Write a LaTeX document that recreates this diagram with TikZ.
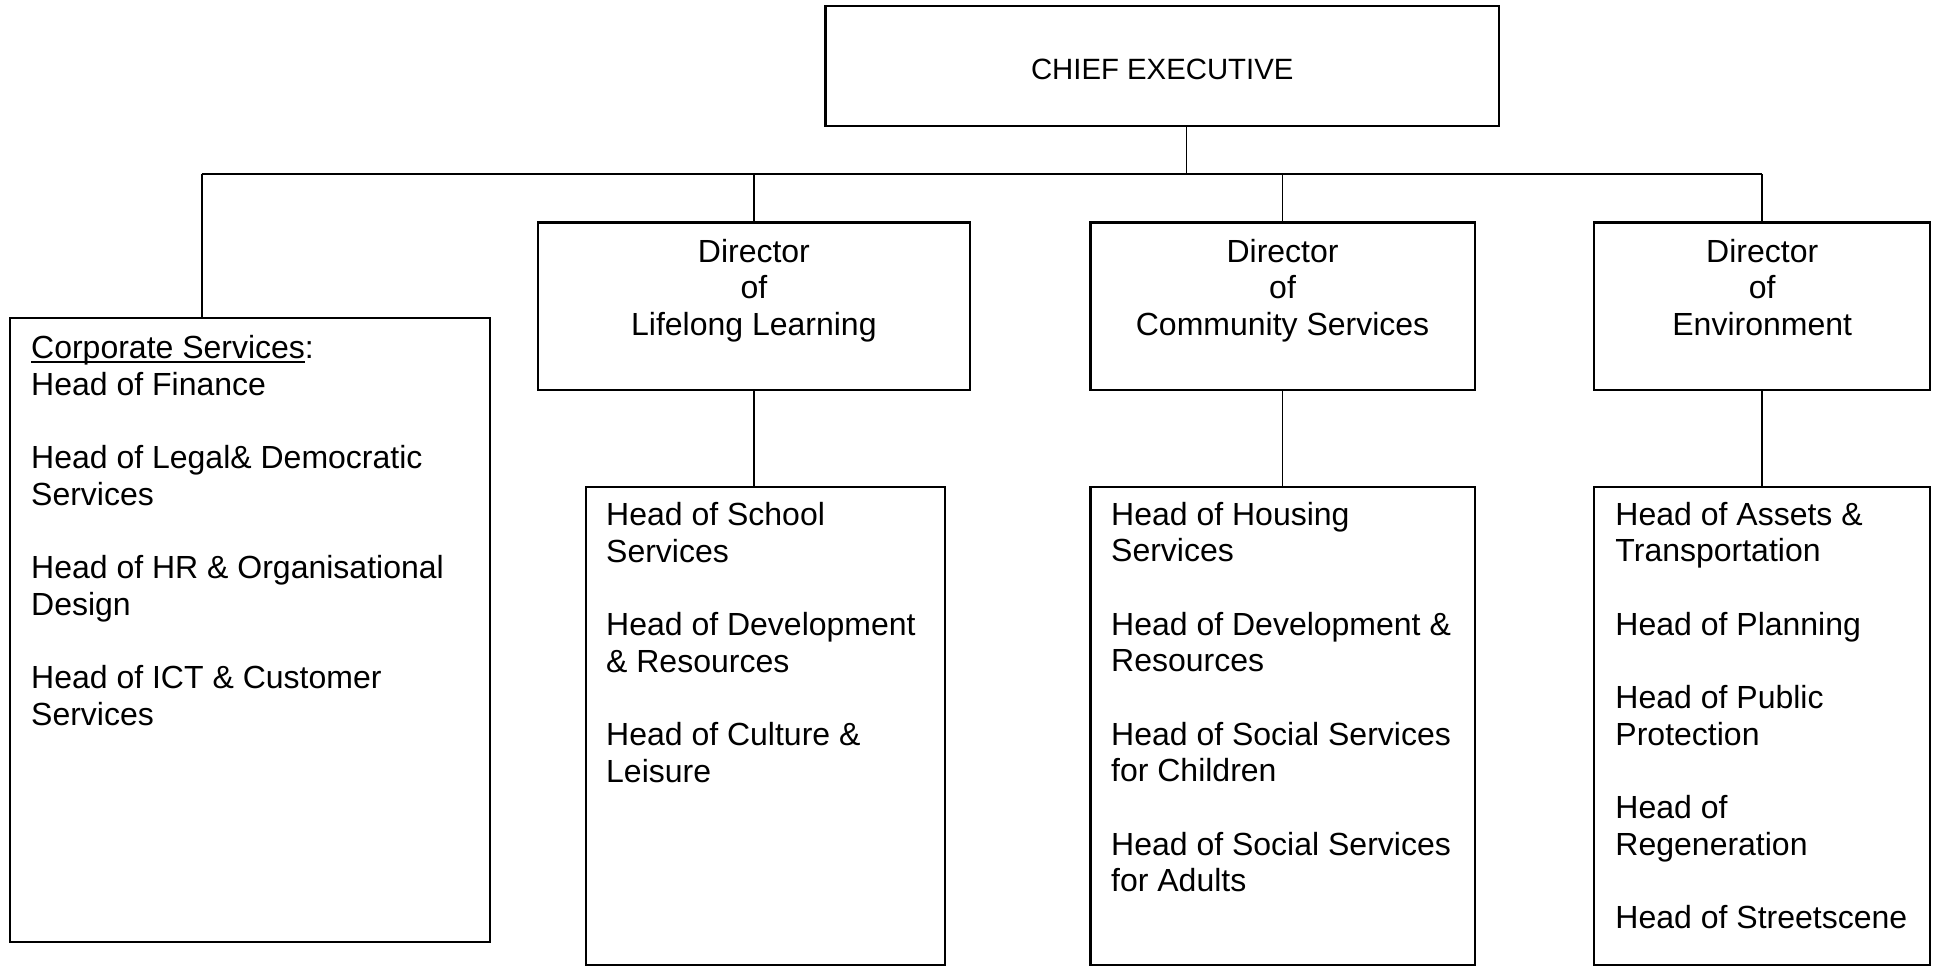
\documentclass[tikz,border=0pt]{standalone}
\usepackage{fontspec}
\setmainfont{Liberation Sans}
\usetikzlibrary{fit}
\newcommand{\ulbar}[1]{\setbox0\hbox{#1}\rlap{\rule[-1.6pt]{\wd0}{0.7pt}}\box0}

\begin{document}
\begin{tikzpicture}[x=0.375pt, y=-0.375pt,
    box/.style={draw, line width=0.8pt, inner sep=0pt},
    link/.style={line width=0.7pt},
    heads/.style={anchor=base west, inner sep=0pt, align=left, font=\fontsize{12pt}{13.76pt}\selectfont},
    title/.style={anchor=base, inner sep=0pt, align=center, font=\fontsize{12pt}{13.76pt}\selectfont}]
    \useasboundingbox (0,0) rectangle (1939,967);

    \node[box, fit={(825.5,6) (1499,126)}] (ceo) {};
    \node[box, fit={(10,318.3) (490,942.3)}] (corp) {};
    \node[box, fit={(537.8,222.5) (970,390)}] (dirLL) {};
    \node[box, fit={(1090.5,222.5) (1474.6,390)}] (dirCS) {};
    \node[box, fit={(1594,222.5) (1930.4,390)}] (dirEnv) {};
    \node[box, fit={(586,487) (945,965)}] (headsLL) {};
    \node[box, fit={(1090.5,487) (1474.6,965)}] (headsCS) {};
    \node[box, fit={(1594,487) (1930.4,965)}] (headsEnv) {};

    % multi-line nodes sit on the baseline of their last line
    \node[title, font=\fontsize{11pt}{13pt}\selectfont] (ceoText) at ([yshift=-75*0.375pt]ceo.north) {CHIEF EXECUTIVE};
    \node[title] (dirLLText) at ([yshift=-114*0.375pt]dirLL.north) {Director\\of\\Lifelong Learning};
    \node[title] (dirCSText) at ([yshift=-114*0.375pt]dirCS.north) {Director\\of\\Community Services};
    \node[title] (dirEnvText) at ([yshift=-114*0.375pt]dirEnv.north) {Director\\of\\Environment};

    \node[heads] (corpText) at ([shift={(21.7,408)}]corp.north west)
        {\ulbar{Corporate Services}:\\Head of Finance\\[13.76pt]
         Head of Legal\& Democratic\\Services\\[13.76pt]
         Head of HR \& Organisational\\Design\\[13.76pt]
         Head of ICT \& Customer\\Services};
    \node[heads] (headsLLText) at ([shift={(20.7,296.6)}]headsLL.north west)
        {Head of School\\Services\\[13.76pt]
         Head of Development\\\& Resources\\[13.76pt]
         Head of Culture \&\\Leisure};
    \node[heads] (headsCSText) at ([shift={(21.2,406)}]headsCS.north west)
        {Head of Housing\\Services\\[13.76pt]
         Head of Development \&\\Resources\\[13.76pt]
         Head of Social Services\\for Children\\[13.76pt]
         Head of Social Services\\for Adults};
    \node[heads] (headsEnvText) at ([shift={(22,442.7)}]headsEnv.north west)
        {Head of Assets \&\\Transportation\\[13.76pt]
         Head of Planning\\[13.76pt]
         Head of Public\\Protection\\[13.76pt]
         Head of\\Regeneration\\[13.76pt]
         Head of Streetscene};

    \coordinate (bus) at (1186.5,174);
    \coordinate (tapCorp) at (201.7,174);
    \draw[link] (ceo.south -| bus) -- (bus);
    \draw[link] (tapCorp) -- (tapCorp -| dirEnv.north);
    \draw[link] (tapCorp) -- (tapCorp |- corp.north);
    \draw[link] (dirLL.north |- bus) -- (dirLL.north);
    \draw[link] (dirCS.north |- bus) -- (dirCS.north);
    \draw[link] (dirEnv.north |- bus) -- (dirEnv.north);
    \draw[link] (dirLL.south) -- (dirLL.south |- headsLL.north);
    \draw[link] (dirCS.south) -- (headsCS.north);
    \draw[link] (dirEnv.south) -- (headsEnv.north);
\end{tikzpicture}
\end{document}
